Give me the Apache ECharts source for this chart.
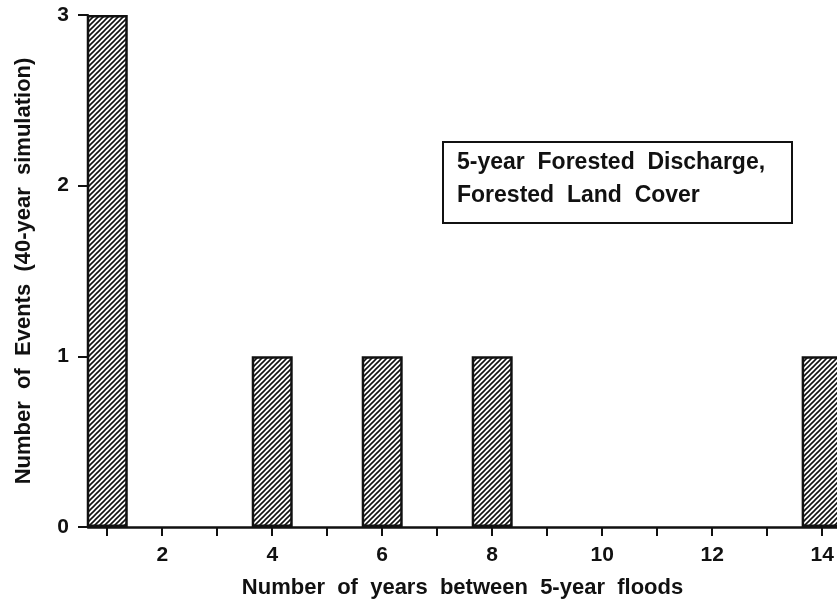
<!DOCTYPE html>
<html>
<head>
<meta charset="utf-8">
<script src="https://cdn.jsdelivr.net/npm/echarts@6/dist/echarts.min.js"></script>
<style>
  html, body { margin: 0; padding: 0; background: #fff; }
  #chart { width: 837px; height: 602px; }
</style>
</head>
<body>
<div id="chart"></div>
<script>
// gap lengths (years) and how many times each happened
const gapYears = [1, 4, 6, 8, 14];
const eventCounts = [3, 1, 1, 1, 1];
const xTicks = [1, 2, 3, 4, 5, 6, 7, 8, 9, 10, 11, 12, 13, 14];
const xLabels = [2, 4, 6, 8, 10, 12, 14];
const boxLines = ['5-year  Forested  Discharge,', 'Forested  Land  Cover'];

const FONT = '"Liberation Sans", Arial, sans-serif';

// hatch fill "/" lines
function makeHatch() {
    let c = document.createElement('canvas');
    let s = 5;
    c.width = s; c.height = s;
    let ctx = c.getContext('2d');
    ctx.fillStyle = '#fff';
    ctx.fillRect(0, 0, s, s);
    ctx.strokeStyle = '#111';
    ctx.lineWidth = 1.6;
    ctx.beginPath();
    ctx.moveTo(0, s); ctx.lineTo(s, 0);
    ctx.moveTo(-1, 1); ctx.lineTo(1, -1);
    ctx.moveTo(s - 1, s + 1); ctx.lineTo(s + 1, s - 1);
    ctx.stroke();
    return c;
}

let data = gapYears.map((g, i) => [g, eventCounts[i]]);

let option = {
    animation: false,
    backgroundColor: '#fff',
    grid: { left: 88, right: 0, top: 15, bottom: 75, outerBoundsMode: 'none', containLabel: false },
    xAxis: {
        type: 'value',
        min: 0.65,
        max: 14.27,
        name: 'Number  of  years  between  5-year  floods',
        nameLocation: 'middle',
        nameGap: 50,
        nameTextStyle: { fontFamily: FONT, fontWeight: 'bold', fontSize: 22, color: '#111' },
        axisLine: { lineStyle: { color: '#111', width: 2.5 } },
        axisTick: { show: true, length: 9, lineStyle: { color: '#111', width: 2 }, customValues: xTicks },
        axisLabel: {
            customValues: xLabels,
            margin: 18,
            fontFamily: FONT, fontWeight: 'bold', fontSize: 21, color: '#111'
        },
        splitLine: { show: false }
    },
    yAxis: {
        type: 'value',
        min: 0,
        max: 3,
        interval: 1,
        name: 'Number  of  Events  (40-year  simulation)',
        nameLocation: 'middle',
        nameGap: 53,
        nameTextStyle: { fontFamily: FONT, fontWeight: 'bold', fontSize: 22, color: '#111' },
        axisLine: { show: true, lineStyle: { color: '#111', width: 2 } },
        axisTick: { show: true, length: 10, lineStyle: { color: '#111', width: 2 } },
        axisLabel: { margin: 19, fontFamily: FONT, fontWeight: 'bold', fontSize: 21, color: '#111' },
        splitLine: { show: false }
    },
    graphic: [
        {
            type: 'rect',
            shape: { x: 443, y: 142, width: 349, height: 81 },
            style: { fill: '#fff', stroke: '#111', lineWidth: 2 }
        },
        {
            type: 'text',
            left: 457, top: 151,
            style: { text: boxLines[0], font: 'bold 23px ' + FONT, fill: '#111' }
        },
        {
            type: 'text',
            left: 457, top: 184,
            style: { text: boxLines[1], font: 'bold 23px ' + FONT, fill: '#111' }
        }
    ],
    series: [
        {
            type: 'bar',
            data: data,
            barWidth: 41,
            itemStyle: {
                color: { image: makeHatch(), repeat: 'repeat' },
                borderColor: '#111',
                borderWidth: 2.5
            }
        }
    ]
};

let myChart = echarts.init(document.querySelector('#chart'));
myChart.setOption(option);
</script>
</body>
</html>
